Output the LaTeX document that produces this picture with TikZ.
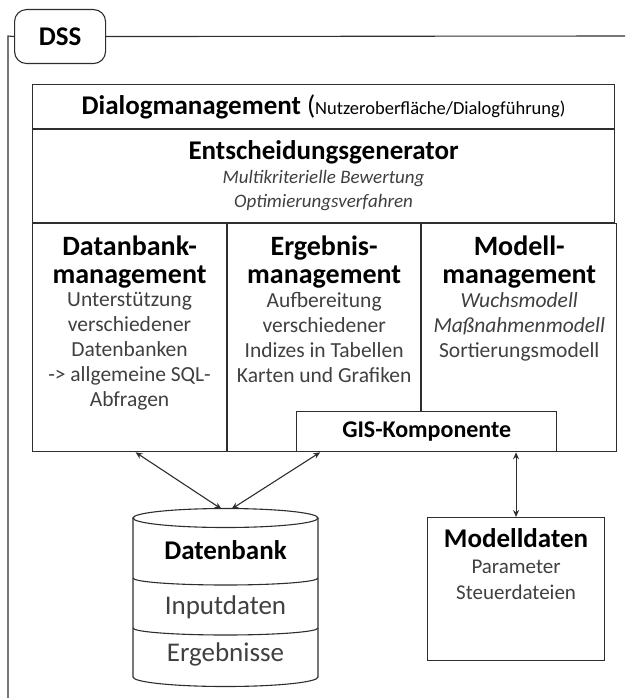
\documentclass[tikz,border=0pt]{standalone}
\usepackage{fontspec}
\setmainfont{Carlito}
\usetikzlibrary{arrows.meta,positioning}
\definecolor{LineGray}{HTML}{2E2E2E}
\definecolor{TextGray}{HTML}{404040}

\begin{document}
\begin{tikzpicture}[x=1pt,y=-1pt,
    every node/.style={inner sep=0pt},
    frame/.style={draw=LineGray,line width=1.1pt},
    box/.style={frame,fill=white,anchor=north west},
    headbf/.style={font=\fontsize{28}{28}\selectfont\bfseries,align=center},
    bodytxt/.style={font=\fontsize{21.5}{25}\selectfont,text=TextGray,align=center},
    link/.style={{Stealth[length=7pt,width=6pt]}-{Stealth[length=7pt,width=6pt]},
                 draw=LineGray,line width=1.1pt}]
  \useasboundingbox (0,0) rectangle (625,698);

  % DSS frame
  \node[box,rounded corners=12pt,minimum width=91pt,minimum height=54pt,
        font=\fontsize{27}{27}\selectfont\bfseries] (dss) at (14,9) {DSS};
  \draw[frame] (dss.east) -- (625,36);
  \draw[frame] (dss.west) -- (8,36) -- (8,698);

  % main block
  \node[box,minimum width=582pt,minimum height=44pt] (dialog) at (32,84)
    {\fontsize{27}{27}\selectfont\bfseries Dialogmanagement
     \mdseries(\fontsize{18.5}{18.5}\selectfont Nutzeroberfläche/Dialogführung)};
  \node[box,minimum width=582pt,minimum height=93pt,align=center,
        font=\fontsize{19}{24}\selectfont\itshape,text=TextGray] (entsch) at (dialog.south west)
    {{\fontsize{27}{27}\selectfont\bfseries\upshape\color{black}Entscheidungsgenerator}\\[0pt]
     Multikriterielle Bewertung\\
     Optimierungsverfahren};

  \node[box,minimum width=194pt,minimum height=228pt] (dbm) at (entsch.south west) {};
  \node[box,minimum width=193pt,minimum height=228pt] (erg) at (dbm.north east) {};
  \node[box,minimum width=195pt,minimum height=228pt] (mod) at (erg.north east) {};

  \node[headbf,below=12pt of dbm.north] (dbmhead) {Datanbank-\\management};
  \node[bodytxt,below=4pt of dbmhead] (dbmtext)
    {Unterstützung\\verschiedener\\Datenbanken\\-> allgemeine SQL-\\Abfragen};
  \node[headbf,below=12pt of erg.north] (erghead) {Ergebnis-\\management};
  \node[bodytxt,below=4pt of erghead] (ergtext)
    {Aufbereitung\\verschiedener\\Indizes in Tabellen\\Karten und Grafiken};
  \node[headbf,below=12pt of mod.north] (modhead) {Modell-\\management};
  \node[bodytxt,below=4pt of modhead] (modtext)
    {\textit{Wuchsmodell}\\\textit{Maßnahmenmodell}\\Sortierungsmodell};

  \node[box,anchor=south east,minimum width=260pt,minimum height=40pt,
        font=\fontsize{24}{24}\selectfont\bfseries] (gis)
    at ([xshift=-60pt]mod.south east) {GIS-Komponente};

  % Datenbank (cylinder)
  \coordinate (dbtop) at (225.5,509);
  \draw[frame] (225.5,518) ellipse [x radius=92.5pt,y radius=9.5pt];
  \draw[frame] (133,518) -- (133,677)
    arc[start angle=180,end angle=360,x radius=92.5pt,y radius=9.5pt] -- (318,518);
  \draw[frame] (133,578) arc[start angle=180,end angle=360,x radius=92.5pt,y radius=7pt];
  \draw[frame] (133,628) arc[start angle=180,end angle=360,x radius=92.5pt,y radius=7pt];
  \node[anchor=base,font=\fontsize{27}{27}\selectfont\bfseries] (dbname) at (225.5,559) {Datenbank};
  \node[anchor=base,font=\fontsize{27}{27}\selectfont,text=TextGray] (dbin)
    at ([yshift=-55pt]dbname.base) {Inputdaten};
  \node[anchor=base,font=\fontsize{27}{27}\selectfont,text=TextGray] (dbout)
    at ([yshift=-47pt]dbin.base) {Ergebnisse};

  % Modelldaten
  \node[box,minimum width=177pt,minimum height=143pt] (mdaten) at (427,517) {};
  \node[anchor=base,font=\fontsize{27}{27}\selectfont\bfseries] (mdname)
    at ([yshift=-30pt]mdaten.north) {Modelldaten};
  \node[anchor=base,font=\fontsize{21}{21}\selectfont,text=TextGray] (mdpar)
    at ([yshift=-26pt]mdname.base) {Parameter};
  \node[anchor=base,font=\fontsize{21}{21}\selectfont,text=TextGray] (mdsteuer)
    at ([yshift=-26pt]mdpar.base) {Steuerdateien};

  % connectors
  \draw[link] ([xshift=6pt]dbm.south) -- ([xshift=-4pt]dbtop);
  \draw[link] ([xshift=-4pt]erg.south) -- ([xshift=6pt]dbtop);
  \draw[link] (mdaten.north) -- (mdaten.north |- mod.south);
\end{tikzpicture}
\end{document}
